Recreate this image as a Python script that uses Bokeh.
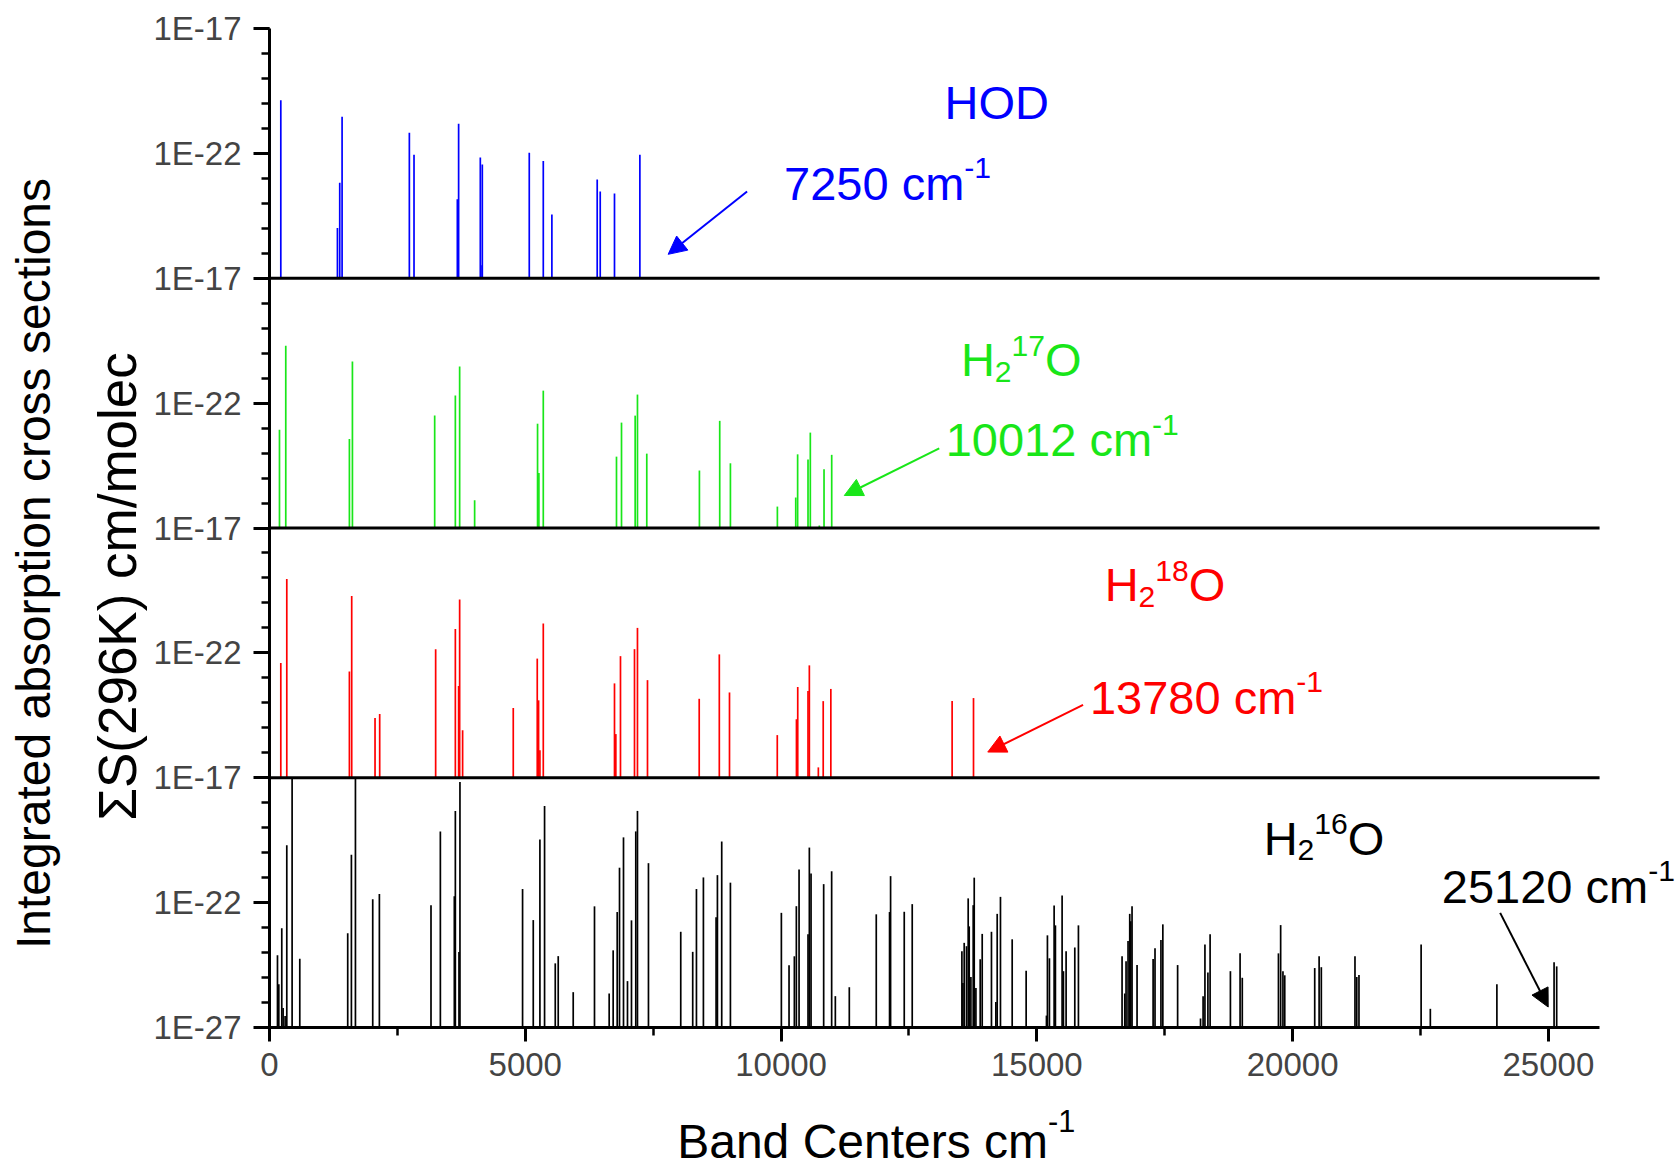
import math
from bokeh.plotting import figure
from bokeh.layouts import row, column
from bokeh.models import (Range1d, LogScale, FixedTicker, Label, Arrow,
                          NormalHead, ColumnDataSource)
from bokeh.embed import file_html
from bokeh.resources import INLINE

# ---------------- data (band centers in cm-1, integrated intensities in cm/molec) -------------
hod_centers = [221, 1328, 1373, 1419, 2734, 2825, 3672, 3697, 4121, 4133, 4160, 5078,
               5352, 5520, 6406, 6465, 6744, 7240]
hod_sums = [1.35e-20, 1.02e-25, 6.6e-24, 2.95e-21, 6.76e-22, 8.9e-23, 1.45e-24, 1.55e-21,
            6.8e-23, 3.3e-27, 3.55e-23, 1.07e-22, 5.0e-23, 3.55e-25, 8.9e-24, 2.95e-24,
            2.45e-24, 8.9e-23]

h2o17_centers = [195, 318, 1562, 1621, 3229, 3633, 3717, 4010, 5240, 5266, 5352, 6783,
                 6881, 7148, 7193, 7375, 8404, 8801, 9010, 9928, 10287, 10324, 10527,
                 10572, 10748, 10840, 10990]
h2o17_sums = [8.5e-24, 2.0e-20, 3.7e-24, 4.6e-21, 3.16e-23, 2.0e-22, 2.9e-21, 1.3e-26,
              1.5e-23, 1.6e-25, 3.16e-22, 7.2e-25, 1.66e-23, 3.16e-23, 2.2e-22, 9.5e-25,
              2.0e-25, 1.95e-23, 3.9e-25, 7.2e-27, 1.66e-26, 8.9e-25, 5.5e-25, 6.6e-24,
              1.26e-27, 2.24e-25, 8.5e-25]

h2o18_centers = [221, 338, 1562, 1607, 2063, 2154, 3248, 3633, 3697, 3717, 3775, 4765,
                 5234, 5260, 5286, 5352, 6744, 6770, 6861, 7135, 7193, 7389, 8400, 8793,
                 8992, 9926, 10301, 10326, 10527, 10553, 10729, 10824, 10973, 13344, 13762]
h2o18_sums = [3.9e-23, 9.1e-20, 1.8e-23, 1.9e-20, 2.45e-25, 3.55e-25, 1.41e-22, 9.1e-22,
              4.7e-24, 1.38e-20, 7.9e-26, 6.2e-25, 5.9e-23, 1.26e-24, 1.26e-26, 1.5e-21,
              6.0e-24, 5.6e-26, 7.4e-23, 1.41e-22, 1.0e-21, 8.1e-24, 1.45e-24, 8.7e-23,
              2.6e-24, 5.1e-26, 2.2e-25, 4.3e-24, 2.95e-24, 3.16e-23, 2.6e-27, 1.17e-24,
              3.6e-24, 1.17e-24, 1.55e-24]

h2o16_centers = [156, 182, 240, 266, 305, 338, 442, 592, 1529, 1601, 1680, 2018, 2148,
                 3157, 3340, 3613, 3633, 3704, 3723, 4947, 5156, 5286, 5377, 5586, 5644,
                 5937, 6353, 6640, 6718, 6797, 6842, 6920, 6998, 7076, 7160, 7193, 7408,
                 8039, 8273, 8346, 8482, 8730, 8756, 8840, 9010, 10006, 10156, 10260,
                 10299, 10352, 10527, 10553, 10586, 10833, 10989, 11061, 11334, 11861,
                 12121, 12141, 12408, 12564, 13535, 13555, 13580, 13625, 13658, 13678,
                 13711, 13756, 13776, 13809, 13893, 13932, 14113, 14199, 14225, 14289,
                 14518, 14791, 15188, 15207, 15246, 15338, 15363, 15494, 15520, 15572,
                 15742, 15813, 16666, 16719, 16744, 16783, 16816, 16836, 16861, 16959,
                 17273, 17310, 17426, 17463, 17752, 18200, 18250, 18286, 18344, 18387,
                 18784, 18973, 19016, 19723, 19766, 19811, 19846, 20432, 20518, 20561,
                 21219, 21254, 21297, 22512, 22692, 23993, 25111, 25162]
h2o16_sums = [7.9e-25, 5.4e-26, 9.5e-24, 6.0e-27, 2.9e-27, 2.0e-20, 9.5e-18, 5.6e-25,
              5.9e-24, 8.3e-21, 9.5e-18, 1.38e-22, 2.2e-22, 7.8e-23, 7.1e-20, 1.8e-22,
              4.7e-19, 1.05e-24, 6.8e-18, 3.5e-22, 2.0e-23, 3.4e-20, 7.4e-19, 3.7e-25,
              7.2e-25, 2.6e-26, 7.1e-23, 2.3e-26, 1.23e-24, 4.2e-23, 2.5e-21, 4.1e-20,
              7.2e-26, 1.95e-23, 7.1e-20, 4.7e-19, 3.8e-21, 6.8e-24, 1.07e-24, 3.5e-22,
              1.02e-21, 2.6e-23, 1.26e-21, 2.8e-20, 6.3e-22, 3.9e-23, 3.1e-25, 7.1e-25,
              7.2e-23, 2.1e-21, 5.4e-24, 1.6e-20, 1.48e-21, 5.5e-22, 1.8e-21, 1.8e-26,
              4.1e-26, 3.4e-23, 4.2e-23, 1.15e-21, 4.3e-23, 8.7e-23, 1.12e-24, 6.0e-26,
              2.45e-24, 1.8e-24, 1.48e-22, 1.12e-23, 1.05e-25, 7.9e-23, 1.0e-21, 3.8e-26,
              5.4e-25, 5.6e-24, 6.8e-24, 1.05e-26, 3.55e-23, 1.7e-22, 3.4e-24, 1.86e-25,
              3.0e-27, 4.9e-24, 5.9e-25, 7.6e-23, 1.23e-23, 1.95e-22, 1.8e-25, 1.12e-24,
              1.6e-24, 1.23e-23, 7.2e-25, 2.3e-26, 4.5e-25, 2.9e-24, 3.55e-23, 1.8e-23,
              7.1e-23, 3.16e-25, 5.5e-25, 1.5e-24, 3.16e-24, 1.35e-23, 3.16e-25, 2.3e-27,
              1.8e-26, 2.1e-24, 1.6e-25, 5.4e-24, 1.8e-25, 9.5e-25, 9.8e-26, 9.3e-25,
              1.26e-23, 1.8e-25, 1.23e-25, 2.4e-25, 7.2e-25, 2.6e-25, 7.2e-25, 1.05e-25,
              1.26e-25, 2.1e-24, 5.6e-27, 5.4e-26, 4.1e-25, 2.8e-25]

x_ticks = [0, 5000, 10000, 15000, 20000, 25000]
x_minor_ticks = [2500, 7500, 12500, 17500, 22500]
x_axis_end = 26000
panel_tick_labels = ["1E-27", "1E-22", "1E-17"]

BLUE, GREEN, RED, BLACK = "#0000ff", "#19e619", "#ff0000", "#000000"
FONT = "Liberation Sans"

# panels from bottom (k=0) to top (k=3)
panels = [
    ("h2o16", h2o16_centers, h2o16_sums, BLACK),
    ("h2o18", h2o18_centers, h2o18_sums, RED),
    ("h2o17", h2o17_centers, h2o17_sums, GREEN),
    ("hod", hod_centers, hod_sums, BLUE),
]
FLOOR = 1e-27
DEC = 10  # decades per panel
NP = len(panels)

# ---------------- page geometry ----------------
W, H = 1677, 1169
FRAME_LEFT = 268             # page x of the y axis
LEFT_W = 150                 # strip holding the y titles
BOT_H = 68                   # strip holding the x title
MAIN_W, MAIN_H = W - LEFT_W, H - BOT_H
FL, FT, FB = FRAME_LEFT - LEFT_W, 28, 1027   # frame edges inside the main figure
px_per_unit = (1599 - FRAME_LEFT) / x_axis_end
x_view_end = (MAIN_W - FL) / px_per_unit

main_lo = FLOOR
main_hi = FLOOR * 10 ** (DEC * NP)
p = figure(width=MAIN_W, height=MAIN_H, output_backend="svg", toolbar_location=None,
           x_range=Range1d(0, x_view_end), y_range=Range1d(main_lo, main_hi),
           y_axis_type="log",
           min_border_left=FL, min_border_right=0, min_border_top=FT,
           min_border_bottom=MAIN_H - FB)
p.outline_line_color = None
p.xgrid.visible = False
p.ygrid.visible = False

# each panel gets its own log range that places 1E-27..1E-17 in its quarter of the frame
extra_r, extra_s = {}, {}
for k, (name, xs, ss, color) in enumerate(panels):
    extra_r[name] = Range1d(main_lo / 10 ** (DEC * k), main_hi / 10 ** (DEC * k))
    extra_s[name] = LogScale()
p.extra_y_ranges = extra_r
p.extra_y_scales = extra_s

for k, (name, xs, ss, color) in enumerate(panels):
    src = ColumnDataSource(dict(x=xs, s=ss, base=[FLOOR] * len(xs)))
    p.segment(x0="x", y0="base", x1="x", y1="s", source=src, y_range_name=name,
              line_color=color, line_width=1.7)

# panel separators (the 1E-27 floor of every upper panel), ending where the axis ends
sep_y = [FLOOR * 10 ** (DEC * k) for k in range(1, NP)]
p.segment(x0=[0] * len(sep_y), x1=[x_axis_end] * len(sep_y), y0=sep_y, y1=sep_y,
          line_color="black", line_width=3)

# y axis: ticks every 5 decades, labels repeat per panel
major = [FLOOR * 10 ** e for e in range(0, DEC * NP + 1, 5)]
minor = [FLOOR * 10 ** e for e in range(0, DEC * NP + 1)]
overrides = {}
for i, t in enumerate(major):
    overrides[t] = panel_tick_labels[0] if i == 0 else panel_tick_labels[1 + (i + 1) % 2]
yax = p.yaxis[0]
yax.ticker = FixedTicker(ticks=major, minor_ticks=minor)
yax.major_label_overrides = overrides
yax.axis_line_width = 3
yax.major_tick_line_width = 3
yax.minor_tick_line_width = 2.5
yax.major_tick_out = 16
yax.major_tick_in = 0
yax.minor_tick_out = 8
yax.minor_tick_in = 0
yax.major_label_text_font = FONT
yax.major_label_text_font_size = "33px"
yax.major_label_standoff = 12

xax = p.xaxis[0]
xax.ticker = FixedTicker(ticks=x_ticks, minor_ticks=x_minor_ticks)
xax.bounds = (0, x_axis_end)
xax.axis_line_width = 3
xax.major_tick_line_width = 3
xax.minor_tick_line_width = 2.5
xax.major_tick_out = 14
xax.major_tick_in = 0
xax.minor_tick_out = 8
xax.minor_tick_in = 0
xax.major_label_text_font = FONT
xax.major_label_text_font_size = "33px"
xax.major_label_standoff = 11

# ---------------- rich text helper (sub/superscripts as separate labels) ----------------
CW = {'0': .556, '1': .556, '2': .556, '3': .556, '4': .556, '5': .556, '6': .556,
      '7': .556, '8': .556, '9': .556, ' ': .278, 'c': .5, 'm': .833, 'H': .722,
      'O': .778, 'D': .722, '-': .333, 'B': .667, 'a': .556, 'n': .556, 'd': .556,
      'C': .722, 'e': .556, 't': .278, 'r': .333, 's': .5}
LIFT = 17  # baseline correction in px


def rich(fig, x, y, parts, color, size, rng=None):
    off = 0.0
    for txt, scale, dy in parts:
        fs = size * scale
        kw = dict(x=x, y=y, x_offset=off, y_offset=dy + LIFT, text=txt,
                  text_color=color, text_font=FONT, text_font_size=f"{fs:.1f}px",
                  text_baseline="alphabetic", text_align="left")
        if rng:
            kw["y_range_name"] = rng
        fig.add_layout(Label(**kw))
        off += sum(CW.get(c, .556) for c in txt) * fs


TS = 47
SUB = 0.64


def molecule(x, y, rng, iso, color):
    rich(p, x, y, [("H", 1, 0), ("2", SUB, -12), (iso, SUB, 14), ("O", 1, 0)],
         color, TS, rng)


def band(x, y, rng, val, color):
    rich(p, x, y, [(f"{val} cm", 1, 0), ("-1", SUB, 15)], color, TS, rng)


def arrow(x0, y0, x1, y1, rng, color):
    p.add_layout(Arrow(x_start=x0, y_start=y0, x_end=x1, y_end=y1, y_range_name=rng,
                       line_color=color, line_width=2,
                       end=NormalHead(size=18, fill_color=color, line_color=color)))


rich(p, 13195, 2.3e-21, [("HOD", 1, 0)], BLUE, TS, "hod")
band(10059, 1.3e-24, "hod", "7250", BLUE)
arrow(9336, 3.0e-24, 7793, 9.1e-27, "hod", BLUE)

molecule(13516, 1.15e-21, "h2o17", "17", GREEN)
band(13217, 7.2e-25, "h2o17", "10012", GREEN)
arrow(13092, 1.55e-24, 11236, 2.0e-26, "h2o17", GREEN)

molecule(16326, 1.1e-20, "h2o18", "18", RED)
band(16037, 3.5e-25, "h2o18", "13780", RED)
arrow(15904, 8.3e-25, 14041, 1.07e-26, "h2o18", RED)

molecule(19434, 7.9e-21, "h2o16", "16", BLACK)
band(22916, 9.5e-23, "h2o16", "25120", BLACK)
arrow(24057, 3.9e-23, 24996, 6.6e-27, "h2o16", BLACK)


# ---------------- title strips (page-pixel coordinates) ----------------
def strip(w, h, x0, x1, y0, y1, left=0):
    f = figure(width=w, height=h, output_backend="svg", toolbar_location=None,
               x_range=Range1d(x0, x1), y_range=Range1d(y1, y0),
               x_axis_location=None, y_axis_location=None,
               min_border_left=left, min_border_right=0,
               min_border_top=0, min_border_bottom=0)
    f.outline_line_color = None
    f.grid.visible = False
    return f


p_left = strip(LEFT_W, H, 0, LEFT_W, 0, H)
p_left.add_layout(Label(x=33, y=563, text="Integrated absorption cross sections",
                        angle=math.pi / 2, text_align="center", text_baseline="middle",
                        text_font=FONT, text_font_size="48px", text_color=BLACK))
p_left.add_layout(Label(x=117, y=586, text="\u03a3S(296K) cm/molec",
                        angle=math.pi / 2, text_align="center", text_baseline="middle",
                        text_font=FONT, text_font_size="53px", text_color=BLACK))

# the bottom strip's frame lines up with the main frame (page x 268 .. 1677)
p_bot = strip(MAIN_W, BOT_H, FRAME_LEFT, W, MAIN_H, H, left=FL)
rich(p_bot, 676, 1158, [("Band Centers cm", 1, 0), ("-1", SUB, 21)], BLACK, 48)

layout = row(p_left, column(p, p_bot))
open("out.html", "w").write(file_html(layout, INLINE))
